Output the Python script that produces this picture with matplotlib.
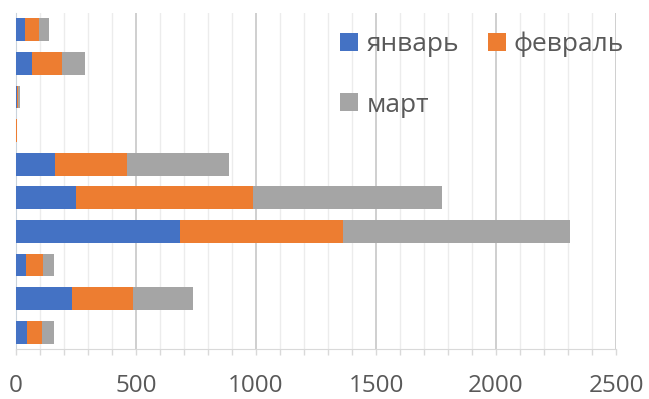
import matplotlib
matplotlib.use("Agg")
import matplotlib.pyplot as plt
from matplotlib.ticker import MultipleLocator

# Stacked monthly values per category (top to bottom)
categories = ["1", "2", "3", "4", "5", "6", "7", "8", "9", "10"]
january = [39, 67, 4, 1, 162, 249, 683, 42, 233, 46]
february = [55, 123, 6, 2, 300, 740, 681, 69, 253, 62]
march = [45, 99, 5, 2, 424, 786, 944, 49, 253, 49]
series_names = ["январь", "февраль", "март"]
colors = ["#4472C4", "#ED7D31", "#A5A5A5"]
x_ticks = [0, 500, 1000, 1500, 2000, 2500]

plt.rcParams["font.family"] = ["Open Sans", "DejaVu Sans"]
text_color = "#595959"

fig = plt.figure(figsize=(6.49, 3.99), dpi=100)
W, H = 649, 399
ax = fig.add_axes([16 / W, 1 - 349 / H, 600 / W, 336 / H])

ypos = list(range(len(categories)))
left = [0] * len(categories)
handles = []
for name, vals, col in zip(series_names, [january, february, march], colors):
    b = ax.barh(ypos, vals, left=left, height=0.68, color=col, label=name, zorder=3)
    handles.append(b)
    left = [l + v for l, v in zip(left, vals)]

ax.set_xlim(0, 2500)
ax.set_ylim(len(categories) - 0.5, -0.5)
ax.set_yticks([])

ax.xaxis.set_major_locator(MultipleLocator(500))
ax.xaxis.set_minor_locator(MultipleLocator(100))
ax.set_xticks(x_ticks)
ax.grid(axis="x", which="major", color="#cccccc", linewidth=1.3, zorder=0)
ax.grid(axis="x", which="minor", color="#ececec", linewidth=1.0, zorder=0)
ax.tick_params(axis="x", which="both", length=4, color="#d9d9d9", width=1)
ax.tick_params(axis="x", which="major", pad=14, labelsize=17.5, labelcolor=text_color)

for side in ["top", "right"]:
    ax.spines[side].set_visible(False)
ax.spines["bottom"].set_color("#d9d9d9")
ax.spines["left"].set_color("#c9d3dc")

leg = ax.legend(
    [handles[0], handles[2], handles[1]],
    [series_names[0], series_names[2], series_names[1]],
    ncol=2, loc="upper left", bbox_to_anchor=(306 / 600, 1.0),
    frameon=False, fontsize=19, handlelength=0.68, handleheight=0.68,
    handletextpad=0.3, columnspacing=1.1, labelspacing=1.35,
    borderaxespad=0.3,
)
for t in leg.get_texts():
    t.set_color(text_color)

fig.savefig("out.png", dpi=100, facecolor="white")
